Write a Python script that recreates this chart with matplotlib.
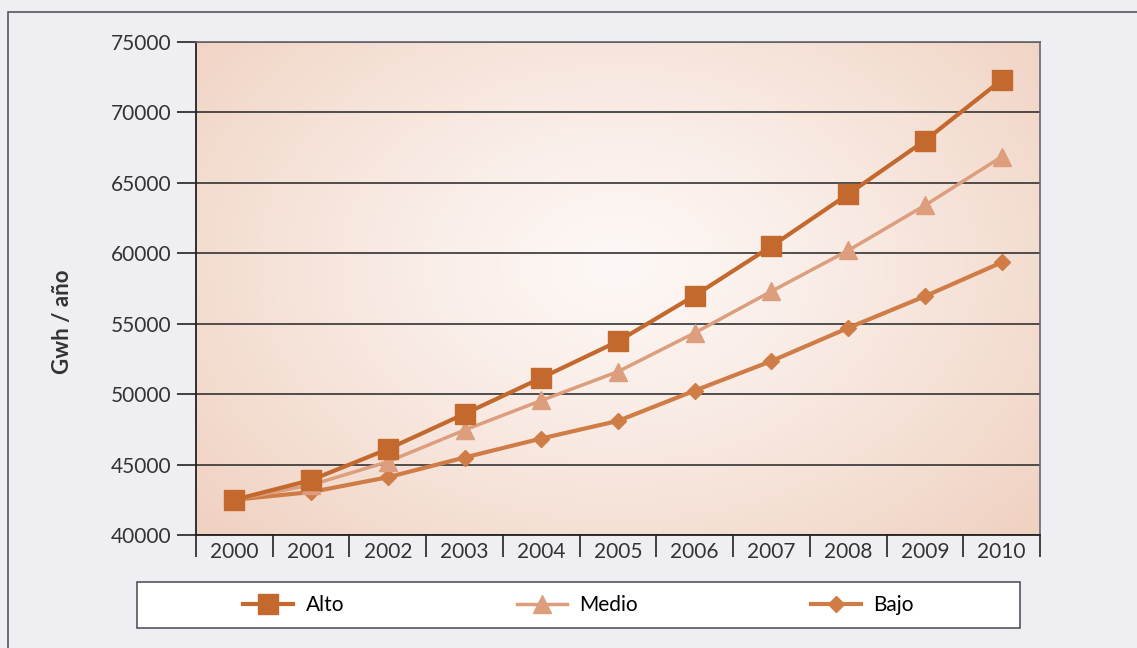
import numpy as np
import matplotlib
matplotlib.use("Agg")
import matplotlib.pyplot as plt
from matplotlib.patches import Rectangle
from matplotlib.ticker import FixedLocator, NullFormatter

years = ["2000", "2001", "2002", "2003", "2004", "2005", "2006", "2007", "2008", "2009", "2010"]
alto = [42500, 43900, 46100, 48600, 51150, 53750, 57000, 60500, 64200, 68000, 72300]
medio = [42500, 43550, 45200, 47450, 49550, 51600, 54350, 57300, 60200, 63400, 66850]
bajo = [42500, 43050, 44100, 45500, 46850, 48100, 50250, 52350, 54700, 56950, 59350]
yticks = [40000, 45000, 50000, 55000, 60000, 65000, 70000, 75000]

plt.rcParams['font.family'] = ['Lato', 'DejaVu Sans']

W, H = 1137, 648
fig = plt.figure(figsize=(W / 100, H / 100), dpi=100)
fig.patch.set_facecolor("#efeff3")
fig.add_artist(Rectangle((8 / W, -0.01), 1.05, 1 - 12 / H + 0.01, transform=fig.transFigure,
                         fill=False, edgecolor="#555560", linewidth=1.2))

ax = fig.add_axes([196 / W, 1 - 535 / H, (1040 - 196) / W, (535 - 42) / H])

# radial gradient background
nx, ny = 400, 240
xx, yy = np.meshgrid(np.linspace(0, 1, nx), np.linspace(0, 1, ny))
r = np.sqrt(((xx - 0.5) / 0.65) ** 2 + ((yy - 0.55) / 0.8) ** 2)
r = np.clip(r, 0, 1)
c0 = np.array([0xfd, 0xf8, 0xf6]) / 255
c1 = np.array([0xf0, 0xd2, 0xc2]) / 255
w = r[..., None] ** 1.2
img = c0[None, None, :] * (1 - w) + c1[None, None, :] * w
ax.imshow(img, extent=[0, 1, 0, 1], transform=ax.transAxes, aspect="auto", zorder=0, origin="lower")

x = np.arange(len(years))
ax.plot(x, alto, color="#c4692e", linewidth=3, marker="s", markersize=15, zorder=5, label="Alto")
ax.plot(x, medio, color="#dc9e7c", linewidth=2.5, marker="^", markersize=13, zorder=4, label="Medio")
ax.plot(x, bajo, color="#cf7c46", linewidth=3, marker="D", markersize=8, zorder=3, label="Bajo")

ax.set_xlim(-0.5, len(years) - 0.5)
ax.set_ylim(40000, 75000)
ax.set_yticks(yticks)
ax.set_yticklabels([str(v) for v in yticks], fontsize=15, color="#333333")
ax.yaxis.grid(True, color="#333333", linewidth=1.2)
for gl in ax.yaxis.get_gridlines():
    gl.set_zorder(2)
ax.tick_params(axis="y", length=14, width=1.2, color="#222222", pad=4)

ax.xaxis.set_major_locator(FixedLocator(np.arange(-0.5, len(years), 1.0)))
ax.xaxis.set_major_formatter(NullFormatter())
ax.xaxis.set_minor_locator(FixedLocator(x))
ax.set_xticklabels(years, minor=True, fontsize=15, color="#333333")
ax.tick_params(axis="x", which="major", length=16, width=1.2, color="#222222", direction="out")
ax.tick_params(axis="x", which="minor", length=0, pad=5)

for s in ["left", "bottom"]:
    ax.spines[s].set_color("#222222")
    ax.spines[s].set_linewidth(1.3)
for s in ["top", "right"]:
    ax.spines[s].set_color("#666670")
    ax.spines[s].set_linewidth(1.2)

fig.text(62 / W, 1 - 322 / H, "Gwh / año", rotation=90, fontsize=16, fontweight="bold",
         color="#333333", ha="center", va="center")

# legend box
fig.add_artist(Rectangle((137 / W, 1 - 628 / H), (1020 - 137) / W, 46 / H, transform=fig.transFigure,
                         facecolor="white", edgecolor="#555560", linewidth=1.2, zorder=1))
leg = fig.legend(loc="center", ncol=3,
                 bbox_to_anchor=(578.5 / W, 1 - 605 / H),
                 frameon=False, fontsize=15, handlelength=2.4,
                 handletextpad=0.6, columnspacing=8.3)
leg.set_zorder(2)

fig.savefig("out.png", dpi=100, facecolor=fig.get_facecolor())
